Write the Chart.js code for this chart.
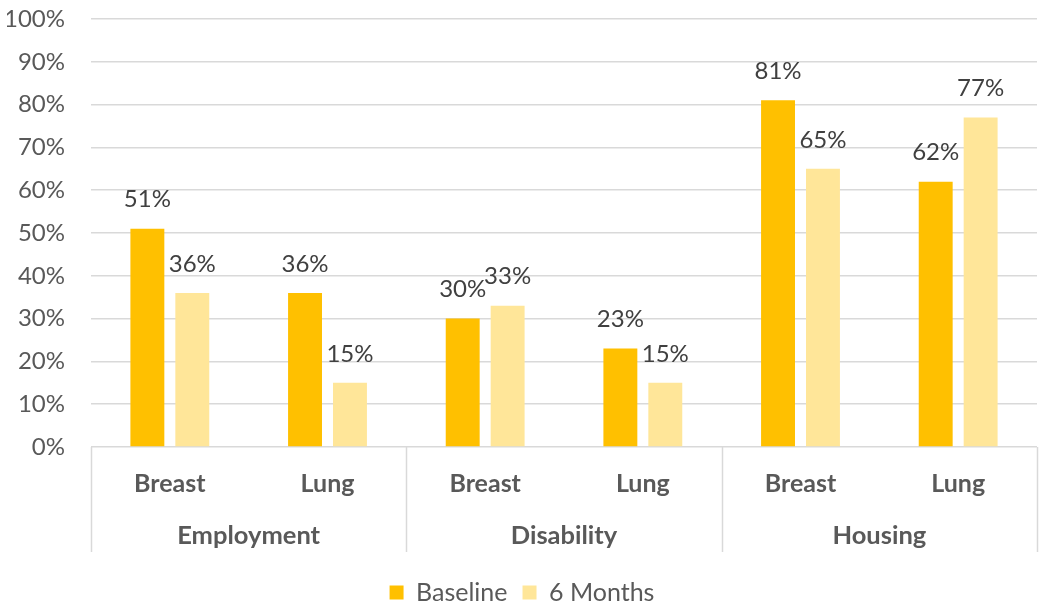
<!DOCTYPE html>
<html>
<head>
<meta charset="utf-8">
<script src="https://cdn.jsdelivr.net/npm/chart.js@4/dist/chart.umd.min.js"></script>
<style>
html,body{margin:0;padding:0;background:#fff;}
#wrap{width:1050px;height:611px;position:relative;}
</style>
</head>
<body>
<div id="wrap"><canvas id="c" width="1050" height="611"></canvas></div>
<script>
const subCategories = ["Breast","Lung","Breast","Lung","Breast","Lung"];
const groups = ["Employment","Disability","Housing"];
const baseline = [51,36,30,23,81,62];
const sixMonths = [36,15,33,15,65,77];
const yTicks = [0,10,20,30,40,50,60,70,80,90,100];

const FONT = "Lato, 'Open Sans', sans-serif";
const GRID = '#d9d9d9';

const labelPlugin = {
  id:'barLabels',
  afterDatasetsDraw(chart){
    const ctx = chart.ctx;
    ctx.save();
    ctx.font = '24px ' + FONT;
    ctx.fillStyle = '#404040';
    ctx.textAlign = 'center';
    ctx.textBaseline = 'middle';
    chart.data.datasets.forEach((ds,di)=>{
      const meta = chart.getDatasetMeta(di);
      meta.data.forEach((bar,i)=>{
        ctx.fillText(ds.data[i] + '%', bar.x, bar.y - 29);
      });
    });
    ctx.restore();
  }
};

const sepPlugin = {
  id:'groupSep',
  afterDraw(chart){
    const xs = chart.scales.x;
    const x2 = chart.scales.x2;
    const ctx = chart.ctx;
    const n = subCategories.length;
    const per = n / groups.length;
    const w = (xs.right - xs.left) / n;
    ctx.save();
    ctx.strokeStyle = GRID;
    ctx.lineWidth = 1.5;
    for(let g=0; g<=groups.length; g++){
      const px = Math.round(xs.left + g*per*w) + 0.5;
      ctx.beginPath();
      ctx.moveTo(px, chart.chartArea.bottom);
      ctx.lineTo(px, x2.top + 54);
      ctx.stroke();
    }
    ctx.restore();
  }
};

new Chart(document.getElementById('c'), {
  type:'bar',
  data:{
    labels: subCategories,
    datasets:[
      {label:'Baseline', data: baseline, backgroundColor:'#ffc000', xAxisID:'x'},
      {label:'6 Months', data: sixMonths, backgroundColor:'#ffe699', xAxisID:'x'}
    ]
  },
  options:{
    responsive:false,
    animation:false,
    layout:{padding:{left:7,right:13,top:0,bottom:-4}},
    categoryPercentage:0.57,
    barPercentage:0.755,
    plugins:{
      tooltip:{enabled:false},
      legend:{
        position:'bottom',
        labels:{
          boxWidth:14, boxHeight:14, padding:15,
          font:{family:FONT,size:25},
          color:'#595959'
        }
      }
    },
    scales:{
      y:{
        min:0,max:100,
        afterBuildTicks(axis){ axis.ticks = yTicks.map(v=>({value:v})); },
        ticks:{
          callback:v=>v+'%',
          font:{family:FONT,size:24},
          color:'#595959',
          padding:26
        },
        grid:{color:GRID,lineWidth:1.5,drawTicks:false},
        border:{display:false},
        afterFit(axis){ axis.width = 84; axis.paddingTop = 19; axis.paddingBottom = 0; }
      },
      x:{
        position:'bottom',
        weight:0,
        grid:{display:false,drawTicks:false},
        border:{display:false},
        ticks:{
          font:{family:FONT,size:25,weight:'bold'},
          color:'#595959',
          padding:22,
          maxRotation:0
        },
        afterFit(axis){ axis.height = 51; }
      },
      x2:{
        type:'category',
        position:'bottom',
        weight:1,
        labels: groups,
        offset:true,
        grid:{display:false,drawTicks:false},
        border:{display:false},
        ticks:{
          font:{family:FONT,size:25.5,weight:'bold'},
          color:'#595959',
          padding:22,
          maxRotation:0
        },
        afterFit(axis){ axis.height = 67; }
      }
    }
  },
  plugins:[labelPlugin, sepPlugin]
});
</script>
</body>
</html>
